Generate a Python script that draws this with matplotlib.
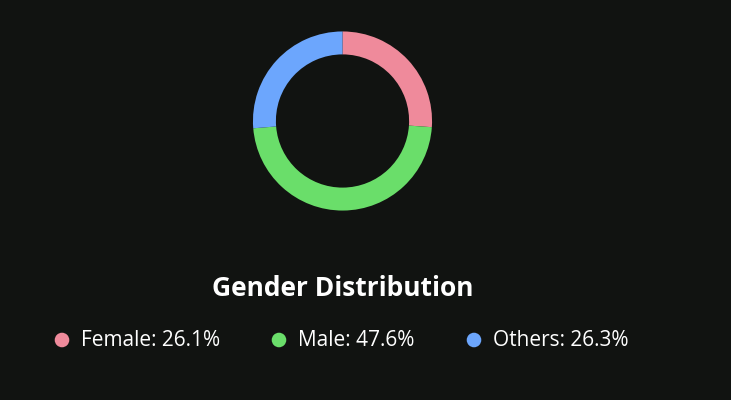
import matplotlib
matplotlib.use("Agg")
import matplotlib.pyplot as plt

labels = ["Female", "Male", "Others"]
shares = [26.1, 47.6, 26.3]
colors = ["#ef8a9b", "#6ade6a", "#6ca6fd"]
title = "Gender Distribution"

BG = "#111311"
W, H = 731, 400

plt.rcParams['font.family'] = ['Open Sans', 'DejaVu Sans']

fig = plt.figure(figsize=(W / 100, H / 100), dpi=100)
fig.patch.set_facecolor(BG)

# donut, placed in pixel terms
cx, cy, r = 342.5, 121, 90
ax = fig.add_axes([(cx - r) / W, (H - cy - r) / H, 2 * r / W, 2 * r / H])
ax.set_facecolor(BG)
ax.pie(shares, colors=colors, startangle=90, counterclock=False,
       radius=0.995, wedgeprops=dict(width=0.255, linewidth=0))
ax.set_xlim(-1, 1)
ax.set_ylim(-1, 1)
ax.set_aspect("equal")
ax.axis("off")

fig.text(cx / W, 1 - 289 / H, title, ha="center", va="center",
         color="white", fontsize=19, fontweight="bold")

# legend row
dot_x = [62, 279, 474]
leg = fig.add_axes([0, 0, 1, 1], facecolor="none")
leg.set_xlim(0, W)
leg.set_ylim(H, 0)
leg.axis("off")
leg.scatter(dot_x, [340] * len(dot_x), s=110, c=colors, linewidths=0)
for x, lab, val in zip(dot_x, labels, shares):
    leg.text(x + 19, 341, f"{lab}: {val}%", ha="left",
             va="center", color="white", fontsize=15)

fig.savefig("out.png", dpi=100, facecolor=BG)
